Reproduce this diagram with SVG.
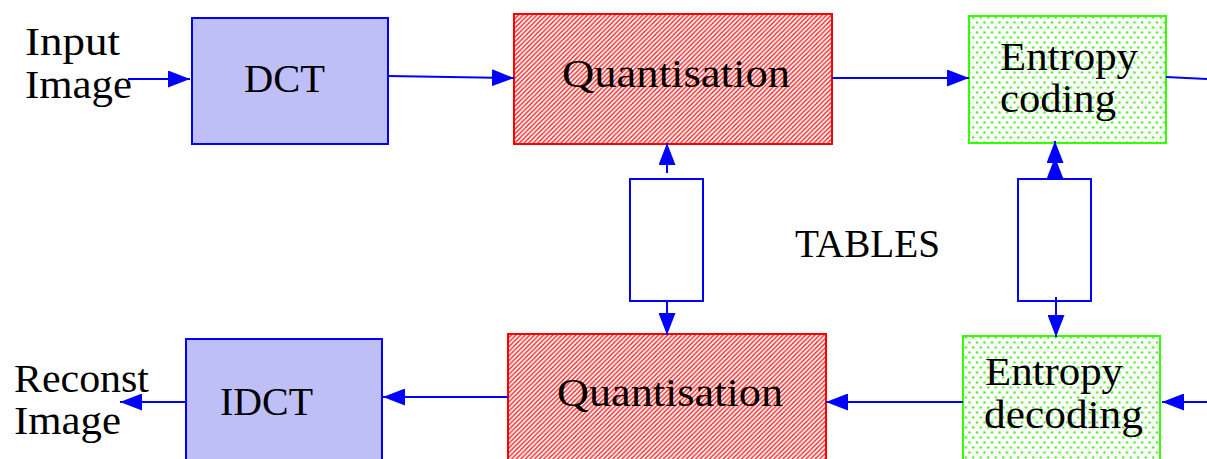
<svg xmlns="http://www.w3.org/2000/svg" width="1207" height="459" viewBox="0 0 1207 459">
  <defs>
    <!-- diagonal red hatch for the quantiser blocks -->
    <pattern id="hatch" patternUnits="userSpaceOnUse" width="4.6" height="4.6">
      <rect width="4.6" height="4.6" fill="#ffffff"/>
      <path d="M-1,1 L1,-1 M0,4.6 L4.6,0 M3.6,5.6 L5.6,3.6" stroke="#ff1a1a" stroke-width="1.4"/>
    </pattern>
    <!-- staggered green dots for the entropy blocks -->
    <pattern id="dots" patternUnits="userSpaceOnUse" width="7.5" height="10">
      <rect width="7.5" height="10" fill="#ffffff"/>
      <circle cx="2" cy="2.5" r="1.3" fill="#55f030"/>
      <circle cx="5.75" cy="7.5" r="1.3" fill="#55f030"/>
    </pattern>
    <marker id="arrow" viewBox="0 0 22 17" refX="22" refY="8.5" markerWidth="22" markerHeight="17" markerUnits="userSpaceOnUse" orient="auto">
      <path d="M0,0 L22,8.5 L0,17 z" fill="#0000ff"/>
    </marker>
  </defs>
  <style>
    text { font-family: "Liberation Serif", "Times New Roman", serif; font-size: 40px; fill: #000000; }
    .dct { fill: #bfbff8; stroke: #0000ff; stroke-width: 2; }
    .quant { fill: url(#hatch); stroke: #ff0000; stroke-width: 2; }
    .entropy { fill: url(#dots); stroke: #33ff00; stroke-width: 2; }
    .table { fill: #ffffff; stroke: #0000ff; stroke-width: 2; }
    .conn { fill: none; stroke: #0000ff; stroke-width: 2; }
  </style>

  <rect width="1207" height="459" fill="#ffffff"/>

  <!-- encoder row -->
  <g id="input-label">
    <text x="25" y="55" textLength="95" lengthAdjust="spacingAndGlyphs">Input</text>
    <text x="25" y="98" textLength="107" lengthAdjust="spacingAndGlyphs">Image</text>
  </g>
  <g id="dct">
    <rect class="dct" x="192" y="18" width="196" height="126"/>
    <text x="244" y="92" textLength="81" lengthAdjust="spacingAndGlyphs">DCT</text>
  </g>
  <g id="quant-enc">
    <rect class="quant" x="514" y="14" width="318" height="130"/>
    <text x="562" y="87" textLength="228" lengthAdjust="spacingAndGlyphs">Quantisation</text>
  </g>
  <g id="entropy-enc">
    <rect class="entropy" x="969" y="16" width="197" height="127"/>
    <text x="1000" y="70" textLength="138" lengthAdjust="spacingAndGlyphs">Entropy</text>
    <text x="1000" y="112" textLength="116" lengthAdjust="spacingAndGlyphs">coding</text>
  </g>

  <!-- shared tables -->
  <g id="table-quant">
    <rect class="table" x="630" y="179" width="73" height="122"/>
  </g>
  <g id="table-entropy">
    <rect class="table" x="1018" y="179" width="73" height="122"/>
  </g>
  <g id="tables-label">
    <text x="795" y="257" textLength="145" lengthAdjust="spacingAndGlyphs">TABLES</text>
  </g>

  <!-- decoder row -->
  <g id="output-label">
    <text x="14" y="392" textLength="135" lengthAdjust="spacingAndGlyphs">Reconst</text>
    <text x="14" y="434" textLength="107" lengthAdjust="spacingAndGlyphs">Image</text>
  </g>
  <g id="idct">
    <rect class="dct" x="186" y="339" width="196" height="130"/>
    <text x="220" y="415" textLength="93" lengthAdjust="spacingAndGlyphs">IDCT</text>
  </g>
  <g id="quant-dec">
    <rect class="quant" x="508" y="334" width="318" height="135"/>
    <text x="557" y="406" textLength="226" lengthAdjust="spacingAndGlyphs">Quantisation</text>
  </g>
  <g id="entropy-dec">
    <rect class="entropy" x="963" y="336" width="197" height="133"/>
    <text x="985" y="385" textLength="138" lengthAdjust="spacingAndGlyphs">Entropy</text>
    <text x="984" y="428" textLength="159" lengthAdjust="spacingAndGlyphs">decoding</text>
  </g>

  <g id="connectors">
    <!-- forward path -->
    <path class="conn" d="M128,79 L190,79" marker-end="url(#arrow)"/>
    <path class="conn" d="M388,76 L514,78" marker-end="url(#arrow)"/>
    <path class="conn" d="M832,78 L969,78" marker-end="url(#arrow)"/>
    <path class="conn" d="M1166,77 L1207,79"/>
    <!-- table lookups -->
    <path class="conn" d="M667,173 L667,143" marker-end="url(#arrow)"/>
    <path class="conn" d="M667,301 L667,335" marker-end="url(#arrow)"/>
    <path class="conn" d="M1055,179 L1055,157 L1055,141" marker-mid="url(#arrow)" marker-end="url(#arrow)"/>
    <path class="conn" d="M1056,297 L1056,337" marker-end="url(#arrow)"/>
    <!-- inverse path -->
    <path class="conn" d="M1207,402 L1162,402" marker-end="url(#arrow)"/>
    <path class="conn" d="M963,402 L826,402" marker-end="url(#arrow)"/>
    <path class="conn" d="M508,397 L383,397" marker-end="url(#arrow)"/>
    <path class="conn" d="M185,402 L120,402" marker-end="url(#arrow)"/>
  </g>
</svg>
